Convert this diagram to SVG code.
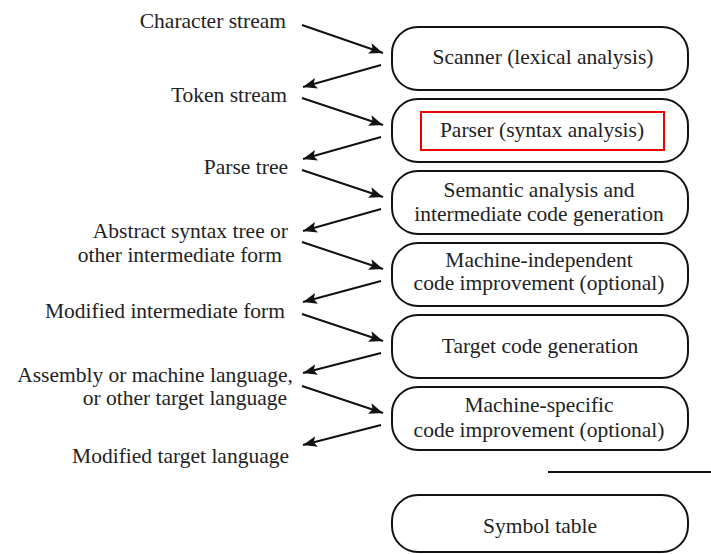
<svg xmlns="http://www.w3.org/2000/svg" width="711" height="554" viewBox="0 0 711 554">
<defs>
<style>
.t{font-size:21.5px;fill:#222}
.l{text-anchor:end}
.c{text-anchor:middle}
.box{fill:#fff;stroke:#111;stroke-width:2}
.ar{stroke:#111;stroke-width:2;fill:none;marker-end:url(#ah)}
</style>
<marker id="ah" markerUnits="userSpaceOnUse" markerWidth="16" markerHeight="12" refX="14" refY="6" orient="auto">
<path d="M0,0.5 L14,6 L0,11.5 L3,6 Z" fill="#111"/>
</marker>
</defs>
<rect width="711" height="554" fill="#fff"/>
<g id="labels">
<text class="t l" font-family="Liberation Serif, serif" x="286" y="28">Character stream</text>
<text class="t l" font-family="Liberation Serif, serif" x="287" y="102">Token stream</text>
<text class="t l" font-family="Liberation Serif, serif" x="288" y="174">Parse tree</text>
<text class="t l" font-family="Liberation Serif, serif" x="288" y="238">Abstract syntax tree or</text>
<text class="t l" font-family="Liberation Serif, serif" x="282" y="262">other intermediate form</text>
<text class="t l" font-family="Liberation Serif, serif" x="285" y="318">Modified intermediate form</text>
<text class="t l" font-family="Liberation Serif, serif" x="293" y="382">Assembly or machine language,</text>
<text class="t l" font-family="Liberation Serif, serif" x="287" y="405">or other target language</text>
<text class="t l" font-family="Liberation Serif, serif" x="289" y="463">Modified target language</text>
</g>
<g id="connectors">
<line class="ar" x1="302" y1="25" x2="383" y2="53"/>
<line class="ar" x1="381" y1="65" x2="303" y2="87"/>
<line class="ar" x1="302" y1="98" x2="383" y2="125"/>
<line class="ar" x1="381" y1="137" x2="303" y2="159"/>
<line class="ar" x1="302" y1="170" x2="383" y2="197"/>
<line class="ar" x1="381" y1="209" x2="303" y2="231"/>
<line class="ar" x1="302" y1="242" x2="383" y2="269"/>
<line class="ar" x1="381" y1="281" x2="303" y2="302"/>
<line class="ar" x1="302" y1="314" x2="383" y2="341"/>
<line class="ar" x1="381" y1="353" x2="303" y2="373"/>
<line class="ar" x1="302" y1="386" x2="383" y2="413"/>
<line class="ar" x1="381" y1="425" x2="303" y2="445"/>
<line x1="548" y1="472" x2="711" y2="472" stroke="#111" stroke-width="2"/>
</g>
<g id="scanner">
<rect class="box" x="392" y="27" width="296" height="63" rx="26"/>
<text class="t c" font-family="Liberation Serif, serif" x="543" y="64">Scanner (lexical analysis)</text>
</g>
<g id="parser">
<rect class="box" x="392" y="99" width="296" height="63" rx="26"/>
<rect x="421" y="112" width="243" height="38" fill="none" stroke="#e00" stroke-width="2"/>
<text class="t c" font-family="Liberation Serif, serif" x="542" y="137">Parser (syntax analysis)</text>
</g>
<g id="semantic">
<rect class="box" x="392" y="171" width="296" height="63" rx="26"/>
<text class="t c" font-family="Liberation Serif, serif" x="539" y="197">Semantic analysis and</text>
<text class="t c" font-family="Liberation Serif, serif" x="539" y="221">intermediate code generation</text>
</g>
<g id="mi">
<rect class="box" x="392" y="243" width="296" height="63" rx="26"/>
<text class="t c" font-family="Liberation Serif, serif" x="539" y="267">Machine-independent</text>
<text class="t c" font-family="Liberation Serif, serif" x="539" y="290">code improvement (optional)</text>
</g>
<g id="target">
<rect class="box" x="392" y="315" width="296" height="63" rx="26"/>
<text class="t c" font-family="Liberation Serif, serif" x="540" y="353">Target code generation</text>
</g>
<g id="ms">
<rect class="box" x="392" y="387" width="296" height="63" rx="26"/>
<text class="t c" font-family="Liberation Serif, serif" x="539" y="412">Machine-specific</text>
<text class="t c" font-family="Liberation Serif, serif" x="539" y="437">code improvement (optional)</text>
</g>
<g id="symtab">
<rect class="box" x="392" y="495" width="296" height="57" rx="26"/>
<text class="t c" font-family="Liberation Serif, serif" x="540" y="533">Symbol table</text>
</g>
</svg>
